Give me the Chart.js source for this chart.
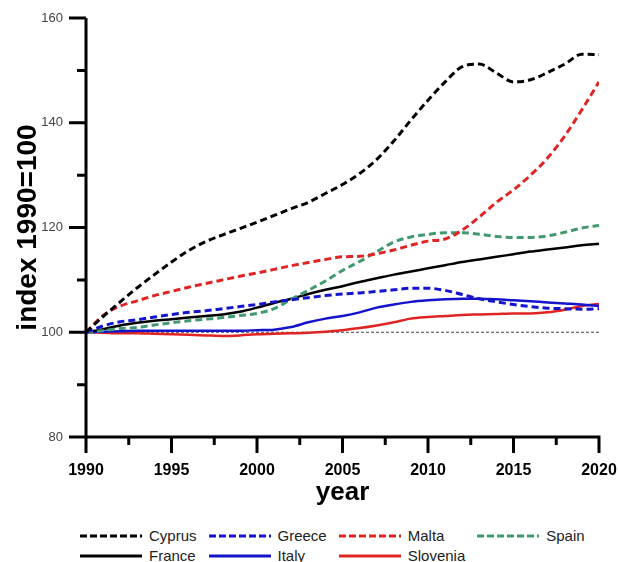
<!DOCTYPE html>
<html>
<head>
<meta charset="utf-8">
<script src="https://cdn.jsdelivr.net/npm/chart.js@4.4.1/dist/chart.umd.min.js"></script>
<style>
  html, body { margin: 0; padding: 0; background: #fff; }
  body { width: 618px; height: 562px; position: relative; overflow: hidden; font-family: "Liberation Sans", Arial, sans-serif; }
  #wrap { position: absolute; left: 0; top: 0; width: 618px; height: 512px; }
  #legend { position: absolute; left: 80px; top: 526px; }
  #legend .grid { display: grid; grid-template-columns: auto auto auto auto; column-gap: 12px; row-gap: 1px; }
  #legend .item { display: flex; align-items: center; height: 19px; font-size: 15px; color: #222; white-space: nowrap; }
  #legend svg { margin-right: 7px; }
</style>
</head>
<body>
<div id="wrap"><canvas id="c" width="618" height="512"></canvas></div>
<div id="legend"><div class="grid" id="lg"></div></div>
<script>
const years = [1990,1991,1992,1993,1994,1995,1996,1997,1998,1999,2000,2001,2002,2003,2004,2005,2006,2007,2008,2009,2010,2011,2012,2013,2014,2015,2016,2017,2018,2019,2020];

const cyprus   = [100,103.0,105.8,108.5,111.0,113.4,115.6,117.3,118.6,119.8,121.0,122.3,123.6,124.8,126.5,128.2,130.3,133.0,136.5,140.5,144.3,147.8,150.7,151.2,149.5,147.8,148.2,149.6,151.2,153.1,153.0];
const greece   = [100,101.2,102.0,102.4,102.9,103.4,103.8,104.1,104.5,104.9,105.3,105.8,106.2,106.6,107.0,107.3,107.5,107.8,108.1,108.4,108.4,108.0,107.2,106.4,105.8,105.3,104.9,104.6,104.5,104.4,104.5];
const malta    = [100,103.2,105.0,106.0,107.0,107.8,108.6,109.3,110.0,110.7,111.3,112.0,112.7,113.3,113.9,114.4,114.5,115.0,115.7,116.6,117.4,117.8,119.5,122.0,124.8,127.2,130.0,133.3,137.5,142.5,147.8];
const spain    = [100,100.3,100.7,100.9,101.4,101.8,102.2,102.5,102.8,103.2,103.6,104.5,106.3,108.0,109.8,111.8,113.5,115.4,117.2,118.2,118.7,119.0,119.0,118.7,118.3,118.1,118.1,118.4,119.1,119.9,120.4];
const france   = [100,100.6,101.3,101.8,102.2,102.5,102.8,103.1,103.4,103.9,104.7,105.6,106.4,107.3,108.1,108.8,109.6,110.3,111.0,111.6,112.2,112.8,113.4,113.9,114.4,114.9,115.4,115.8,116.2,116.6,116.9];
const italy    = [100,100.1,100.2,100.3,100.3,100.3,100.3,100.3,100.3,100.3,100.4,100.5,101.0,101.9,102.6,103.1,103.8,104.7,105.3,105.8,106.1,106.3,106.4,106.4,106.3,106.1,105.9,105.7,105.5,105.3,105.0];
const slovenia = [100,99.9,99.8,99.8,99.7,99.6,99.5,99.4,99.3,99.4,99.6,99.7,99.8,99.9,100.1,100.4,100.8,101.3,101.9,102.6,102.9,103.1,103.3,103.4,103.5,103.6,103.6,103.8,104.3,105.0,105.4];
const baseline = [100,100,100,100,100,100,100,100,100,100,100,100,100,100,100,100,100,100,100,100,100,100,100,100,100,100,100,100,100,100,100];

const xTicks = [1990,1995,2000,2005,2010,2015,2020];
const yTicks = [80,100,120,140,160];

const series = [
  { label: 'Cyprus',   data: cyprus,   color: '#000000', dashed: true },
  { label: 'Greece',   data: greece,   color: '#1414cc', dashed: true },
  { label: 'Malta',    data: malta,    color: '#e02424', dashed: true },
  { label: 'Spain',    data: spain,    color: '#41996f', dashed: true },
  { label: 'France',   data: france,   color: '#000000', dashed: false },
  { label: 'Italy',    data: italy,    color: '#1414cc', dashed: false },
  { label: 'Slovenia', data: slovenia, color: '#e02424', dashed: false }
];

const toPts = arr => years.map((y, i) => ({ x: y, y: arr[i] }));

const datasets = series.map(s => ({
  label: s.label,
  data: toPts(s.data),
  borderColor: s.color,
  borderWidth: s.dashed ? 3 : 2.5,
  borderDash: s.dashed ? [7, 4] : [],
  pointRadius: 0,
  fill: false,
  cubicInterpolationMode: 'monotone'
}));
datasets.push({
  label: 'base',
  data: toPts(baseline),
  borderColor: '#444',
  borderWidth: 1.2,
  borderDash: [3, 2],
  pointRadius: 0,
  fill: false
});

const axesPlugin = {
  id: 'axesPlugin',
  afterDraw(chart) {
    const ctx = chart.ctx;
    const xs = chart.scales.x, ys = chart.scales.y;
    const x0 = xs.getPixelForValue(1990), x1 = xs.getPixelForValue(2020);
    const yb = ys.getPixelForValue(80), yt = ys.getPixelForValue(160);
    ctx.save();
    ctx.strokeStyle = '#000';
    ctx.lineWidth = 3;
    ctx.lineCap = 'butt';
    ctx.beginPath();
    ctx.moveTo(x0, yt); ctx.lineTo(x0, yb + 16);
    ctx.moveTo(x0 - 17, yb); ctx.lineTo(x1 + 1.5, yb);
    for (let v = 80; v <= 160; v += 10) {
      const p = ys.getPixelForValue(v);
      const len = (v % 20 === 0) ? 17 : 9;
      ctx.moveTo(x0, p); ctx.lineTo(x0 - len, p);
    }
    for (let v = 1990; v <= 2020; v += 2.5) {
      const p = xs.getPixelForValue(v);
      const len = (v % 5 === 0) ? 16 : 8;
      ctx.moveTo(p, yb); ctx.lineTo(p, yb + len);
    }
    ctx.stroke();
    ctx.restore();
  }
};

new Chart(document.getElementById('c'), {
  type: 'line',
  data: { datasets },
  options: {
    responsive: false,
    animation: false,
    layout: { padding: { left: 0, right: 19, top: 18, bottom: 0 } },
    plugins: { legend: { display: false }, tooltip: { enabled: false } },
    scales: {
      x: {
        type: 'linear',
        min: 1990, max: 2020,
        afterBuildTicks: s => { s.ticks = xTicks.map(v => ({ value: v })); },
        afterFit: s => { s.height = 75; s.paddingLeft = 0; s.paddingRight = 0; },
        grid: { display: false, drawTicks: false },
        border: { display: false },
        ticks: {
          callback: v => String(v),
          color: '#000',
          padding: 24,
          maxRotation: 0,
          font: { family: 'Liberation Sans, Arial, sans-serif', size: 16, weight: 'bold' }
        },
        title: {
          display: true, text: 'year', color: '#000',
          padding: { top: 0, bottom: 4 },
          font: { family: 'Liberation Sans, Arial, sans-serif', size: 26, weight: 'bold' }
        }
      },
      y: {
        type: 'linear',
        min: 80, max: 160,
        afterBuildTicks: s => { s.ticks = yTicks.map(v => ({ value: v })); },
        afterFit: s => { s.width = 86; s.paddingTop = 0; s.paddingBottom = 0; },
        grid: { display: false, drawTicks: false },
        border: { display: false },
        ticks: {
          callback: v => String(v),
          color: '#444',
          padding: 23,
          font: { family: 'Liberation Sans, Arial, sans-serif', size: 13 }
        },
        title: {
          display: true, text: 'index 1990=100', color: '#000',
          padding: { top: 11, bottom: 0 },
          font: { family: 'Liberation Sans, Arial, sans-serif', size: 28, weight: 'bold' }
        }
      }
    }
  },
  plugins: [axesPlugin]
});

const lg = document.getElementById('lg');
series.forEach(s => {
  const d = document.createElement('div');
  d.className = 'item';
  const dash = s.dashed ? 'stroke-dasharray="7 3"' : '';
  d.innerHTML = '<svg width="62" height="10"><line x1="0" y1="5" x2="62" y2="5" stroke="' + s.color + '" stroke-width="3" ' + dash + '/></svg><span>' + s.label + '</span>';
  lg.appendChild(d);
});
</script>
</body>
</html>
